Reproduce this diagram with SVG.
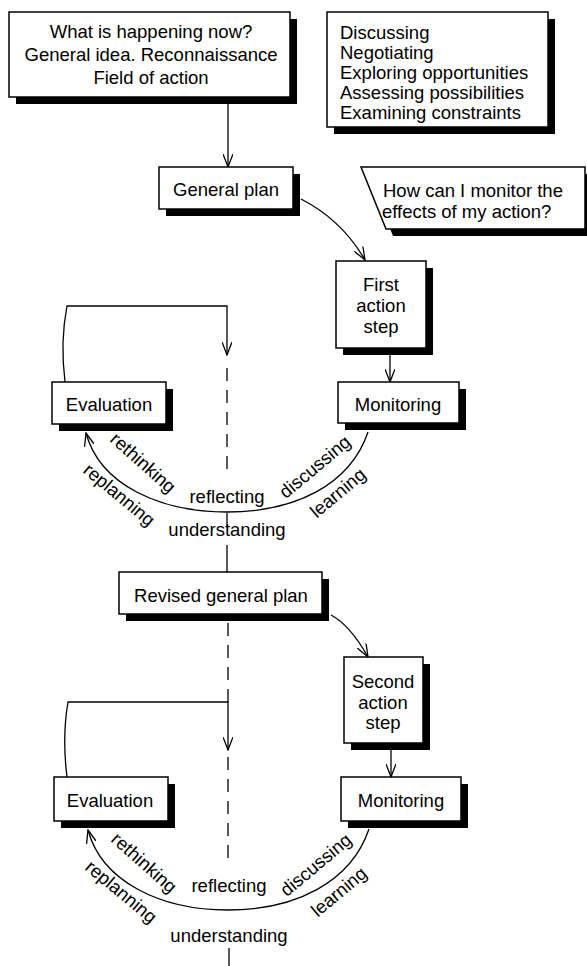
<svg xmlns="http://www.w3.org/2000/svg" width="587" height="966" viewBox="0 0 587 966">
<style>
.box{fill:#fff;stroke:#000;stroke-width:1.5}
.sh{fill:#000}
.t{font-family:"Liberation Sans",Arial,sans-serif;font-size:18.5px;fill:#000}
.c{text-anchor:middle}
.ln{fill:none;stroke:#000;stroke-width:1.3}
.arr{marker-end:url(#ah)}
.dash{stroke-dasharray:13 9}
</style>
<defs>
<marker id="ah" viewBox="0 0 14 10" refX="13" refY="5" markerWidth="14" markerHeight="10" markerUnits="userSpaceOnUse" orient="auto">
<path d="M0,0 L13,5 L0,10" fill="none" stroke="#000" stroke-width="1.3"/>
</marker>
</defs>
<rect width="587" height="966" fill="#fff"/>

<g id="connectors">
<path class="ln arr" d="M228 104 L228 167"/>
<path class="ln arr" d="M301 199 Q342 220 365 260"/>
<path class="ln arr" d="M390 353 L390 382"/>
<path class="ln arr" d="M65 382 Q60 342 67 306 L227 306 L227 355"/>
<path class="ln dash" d="M227 368 L227 472"/>
<path class="ln arr" d="M368 432 C350 485 295 512 227 512 C160 512 100 485 86 433"/>
<path class="ln" d="M227 513 L227 526"/>
<path class="ln" d="M227 545 L227 572"/>
<path class="ln arr" d="M331 615 Q350 625 368 657"/>
<path class="ln dash" d="M228 623 L228 702"/>
<path class="ln arr" d="M67 777 Q62 737 68 702 L228 702 L228 750"/>
<path class="ln dash" d="M228 757 L228 860"/>
<path class="ln arr" d="M391 750 L391 777"/>
<path class="ln arr" d="M369 829 C351 882 296 910 228 910 C161 910 102 882 88 830"/>
<path class="ln" d="M229 948 L229 966"/>
</g>

<g id="node-situation">
<rect class="sh" x="16" y="19" width="281" height="85"/>
<rect class="box" x="9" y="12" width="281" height="85"/>
<text class="t c" x="151" y="38">What is happening now?</text>
<text class="t c" x="151" y="61">General idea. Reconnaissance</text>
<text class="t c" x="151" y="84">Field of action</text>
</g>

<g id="node-activities">
<rect class="sh" x="334" y="19" width="221" height="115"/>
<rect class="box" x="327" y="12" width="221" height="115"/>
<text class="t" x="340" y="39">Discussing</text>
<text class="t" x="340" y="59">Negotiating</text>
<text class="t" x="340" y="79">Exploring opportunities</text>
<text class="t" x="340" y="99">Assessing possibilities</text>
<text class="t" x="340" y="119">Examining constraints</text>
</g>

<g id="node-general-plan">
<rect class="sh" x="166" y="174" width="134" height="42"/>
<rect class="box" x="159" y="167" width="134" height="42"/>
<text class="t c" x="226" y="196">General plan</text>
</g>

<g id="node-question">
<polygon class="sh" points="368,174 594,174 594,236 393,236"/>
<polygon class="box" points="361,167 585,167 585,229 386,229"/>
<text class="t" x="383" y="197">How can I monitor the</text>
<text class="t" x="382" y="218">effects of my action?</text>
</g>

<g id="node-first-action">
<rect class="sh" x="343" y="268" width="90" height="87"/>
<rect class="box" x="336" y="261" width="90" height="87"/>
<text class="t c" x="381" y="291">First</text>
<text class="t c" x="381" y="312">action</text>
<text class="t c" x="381" y="333">step</text>
</g>

<g id="node-monitoring-1">
<rect class="sh" x="345" y="389" width="121" height="41"/>
<rect class="box" x="338" y="382" width="121" height="41"/>
<text class="t c" x="398" y="411">Monitoring</text>
</g>

<g id="node-evaluation-1">
<rect class="sh" x="59" y="389" width="114" height="42"/>
<rect class="box" x="52" y="382" width="114" height="42"/>
<text class="t c" x="109" y="411">Evaluation</text>
</g>

<g id="node-revised-plan">
<rect class="sh" x="126" y="579" width="203" height="42"/>
<rect class="box" x="119" y="572" width="203" height="42"/>
<text class="t c" x="221" y="602">Revised general plan</text>
</g>

<g id="node-second-action">
<rect class="sh" x="351" y="664" width="79" height="86"/>
<rect class="box" x="344" y="657" width="79" height="86"/>
<text class="t c" x="383" y="688">Second</text>
<text class="t c" x="383" y="709">action</text>
<text class="t c" x="383" y="729">step</text>
</g>

<g id="node-evaluation-2">
<rect class="sh" x="61" y="784" width="114" height="44"/>
<rect class="box" x="54" y="777" width="114" height="44"/>
<text class="t c" x="110" y="807">Evaluation</text>
</g>

<g id="node-monitoring-2">
<rect class="sh" x="348" y="784" width="120" height="44"/>
<rect class="box" x="341" y="777" width="120" height="44"/>
<text class="t c" x="401" y="807">Monitoring</text>
</g>

<g id="labels">
<text class="t c" transform="translate(143,463) rotate(41.6)" y="6">rethinking</text>
<text class="t c" transform="translate(119,495) rotate(39.7)" y="6">replanning</text>
<text class="t c" x="227" y="503">reflecting</text>
<text class="t c" transform="translate(315,467) rotate(-40)" y="6">discussing</text>
<text class="t c" transform="translate(338,493) rotate(-40)" y="6">learning</text>
<text class="t c" x="227" y="536">understanding</text>
<text class="t c" transform="translate(144,863) rotate(41.6)" y="6">rethinking</text>
<text class="t c" transform="translate(121,892) rotate(39.7)" y="6">replanning</text>
<text class="t c" x="229" y="892">reflecting</text>
<text class="t c" transform="translate(316,865) rotate(-40)" y="6">discussing</text>
<text class="t c" transform="translate(339,892) rotate(-40)" y="6">learning</text>
<text class="t c" x="229" y="942">understanding</text>
</g>
</svg>
